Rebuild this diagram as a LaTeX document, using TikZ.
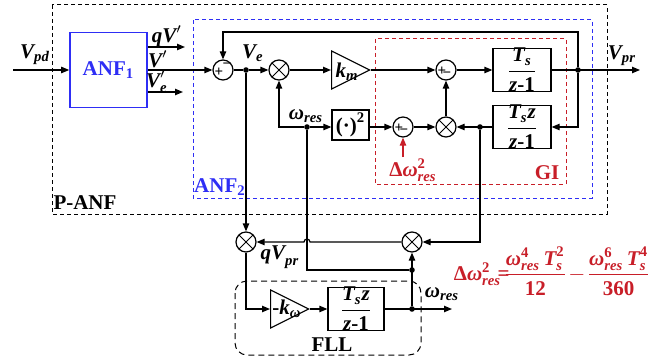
\documentclass[tikz,border=0pt]{standalone}
\usepackage{amsmath}
\usepackage{fontspec}
\setmainfont{Liberation Serif}
\usetikzlibrary{arrows.meta,positioning,shapes.geometric}
\definecolor{anfblue}{HTML}{2E2EF5}
\definecolor{gired}{HTML}{C81E28}
\newcommand{\bi}[1]{\text{\bfseries\itshape #1}}
\newcommand{\bu}[1]{\text{\bfseries #1}}

\begin{document}
\begin{tikzpicture}[x=0.5pt,y=-0.5pt,line width=0.6pt,>={Triangle[length=4pt,width=3.2pt]}]
\tikzset{every node/.style={font=\fontsize{10.5}{12}\selectfont\bfseries},
  sumnode/.style={circle,draw,minimum size=10pt,inner sep=0pt},
  multnode/.style={sumnode,path picture={\draw[line width=0.5pt] (path picture bounding box.north west)--(path picture bounding box.south east) (path picture bounding box.north east)--(path picture bounding box.south west);}},
  blockbox/.style={draw,minimum width=29pt,minimum height=19pt,inner sep=0pt,font=\fontsize{10.5}{12}\selectfont\bfseries},
  gain/.style={draw,isosceles triangle,isosceles triangle stretches,minimum width=19pt,minimum height=19pt,inner sep=0pt,anchor=west},
  jdot/.style={circle,fill,minimum size=2.8pt,inner sep=0pt},
  sign/.style={font=\fontsize{7.5}{7.5}\selectfont\bfseries,inner sep=0pt},
  frame/.style={line width=0.5pt,dash pattern=on 2pt off 1.5pt}}
\useasboundingbox (0,0) rectangle (663,358);

% frames
\draw[frame] (52,5) rectangle (607,214);
\draw[frame,anfblue] (193,20) rectangle (592,198);
\draw[frame,gired] (375,39) rectangle (566,184);
\draw[frame,dash pattern=on 3pt off 2pt,rounded corners=6pt] (235,281) rectangle (421,355);

% blocks
\node[draw=anfblue,line width=0.8pt,minimum width=38.5pt,minimum height=37.5pt,text=anfblue] (anf1) at (108.5,70) {ANF\textsubscript{1}};
\node[sumnode] (s1) at (223,70) {};
\node[sign] (s1p) at ([shift={(-4,2)}]s1) {+};
\node[sign] (s1m) at ([shift={(4,-4)}]s1) {−};
\node[multnode] (m1) at (279,70) {};
\node[gain] (km) at (331,70) {};
\node (kmlab) at (347,72) {$\bi{k}_{\bi{m}}$};
\node[sumnode] (s2) at (446,70) {};
\node[sign] (s2p) at ([shift={(-4,1)}]s2) {+};
\node[sign] (s2m) at ([shift={(1,5)}]s2) {−};
\node[blockbox] (gi1) at (522,70) {$\dfrac{\bi{T}_{\bi{s}}}{\bi{z}\bu{-1}}$};
\node[blockbox] (gi2) at (522,127) {$\dfrac{\bi{T}_{\bi{s}}\bi{z}}{\bi{z}\bu{-1}}$};
\node[multnode] (m2) at (446,127) {};
\node[sumnode] (s3) at (403,127) {};
\node[sign] (s3p) at ([shift={(-4,1)}]s3) {+};
\node[sign] (s3m) at ([shift={(1,5)}]s3) {−};
\node[draw,minimum width=18.5pt,minimum height=15pt,inner sep=0pt] (sq) at (350.5,125) {$\bu{(·)}^{\bu{2}}$};

\node[multnode] (mL) at (246,242) {};
\node[multnode] (mR) at (412,242) {};
\node[gain] (kw) at (270,309) {};
\node (kwlab) at (287,309) {$\bu{-}\bi{k}_{\bi{ω}}$};
\node[blockbox,minimum width=28pt] (fll) at (356,309) {$\dfrac{\bi{T}_{\bi{s}}\bi{z}}{\bi{z}\bu{-1}}$};

% junctions and free ends
\node[jdot] (vedot) at (246,70) {};
\node[jdot] (wres) at (307,127) {};
\node[jdot] (gidot) at (480,127) {};
\node[jdot] (vprdot) at (578,70) {};
\node[jdot] (fbdot) at (412,270) {};
\node[jdot] (flldot) at (412,309) {};
\coordinate (vpdin) at (13,70);
\coordinate (qvout) at (185,47);
\coordinate (veout) at (183,92);
\coordinate (vprout) at (640,70);
\coordinate (dwin) at (403,157);
\coordinate (wout) at (452,309);
\coordinate (hop) at (307,242);

% signals
\draw[->] (vpdin) -- (anf1.west);
\draw[->] (anf1.east |- qvout) -- (qvout);
\draw[->] (anf1.east |- veout) -- (veout);
\draw[->] (anf1.east) -- (s1.west);
\draw (s1.east) -- (vedot);
\draw[->] (vedot) -- (m1.west);
\draw[->] (m1.east) -- (km.west);
\draw[->] (km.apex) -- (s2.west);
\draw[->] (s2.east) -- (gi1.west);
\draw[->] (gi1.east) -- (vprout);
\draw[->] (vprdot) -- (vprdot |- 0,32) -| (s1.north);
\draw[->] (vprdot) |- (gi2.east);
\draw[->] (gi2.west) -- (m2.east);
\draw[->] (m2.north) -- (s2.south);
\draw[->] (s3.east) -- (m2.west);
\draw[->] (sq.east |- s3) -- (s3.west);
\draw[->] (wres) -- (sq.west |- wres);
\draw[->] (wres) -| (m1.south);
\draw[->,gired] (dwin) -- (s3.south);
\draw[->] (vedot) -- (mL.north);
\draw[->] (gidot) |- (mR.east);
\draw[->] (mR.west) -- ([xshift=1.5pt]hop) arc[start angle=0,end angle=180,radius=1.5pt] -- (mL.east);
\draw (wres) |- (fbdot);
\draw[->] (flldot) -- (mR.south);
\draw[->] (mL.south) |- (kw.west);
\draw[->] (kw.apex) -- (fll.west);
\draw[->] (fll.east) -- (wout);

% labels
\node (vpdlab) at (35,55) {$\bi{V}_{\bi{pd}}$};
\node (qvlab) at (167,36) {$\bi{qV}'$};
\node (vlab) at (158,59) {$\bi{V}'$};
\node (velab) at (157,82) {$\bi{V}'_{\bi{e}}$};
\node (velab2) at (253,53) {$\bi{V}_{\bi{e}}$};
\node (wreslab) at (306,116) {$\bi{ω}_{\bi{res}}$};
\node (vprlab) at (622,56) {$\bi{V}_{\bi{pr}}$};
\node[text=anfblue] (anf2lab) at (220,187) {ANF\textsubscript{2}};
\node (panflab) at (85,203) {P-ANF};
\node[text=gired] (gilab) at (547,173) {GI};
\node[text=gired] (dwlab) at (413,170) {$\bu{Δ}\bi{ω}^{\bu{2}}_{\bi{res}}$};
\node (qvprlab) at (280,257) {$\bi{qV}_{\bi{pr}}$};
\node (wreslab2) at (442,294) {$\bi{ω}_{\bi{res}}$};
\node (flllab) at (332,345) {FLL};
\node[text=gired,inner sep=0pt] (formula) at (551,271) {\nulldelimiterspace=0pt$\bu{Δ}\bi{ω}^{\bu{2}}_{\bi{res}}\!\bu{=}\!\dfrac{\bi{ω}^{\bu{4}}_{\bi{res}}\,\bi{T}^{\bu{2}}_{\bi{s}}}{\bu{12}}\,{-}\,\dfrac{\bi{ω}^{\bu{6}}_{\bi{res}}\,\bi{T}^{\bu{4}}_{\bi{s}}}{\bu{360}}$};
\end{tikzpicture}
\end{document}
